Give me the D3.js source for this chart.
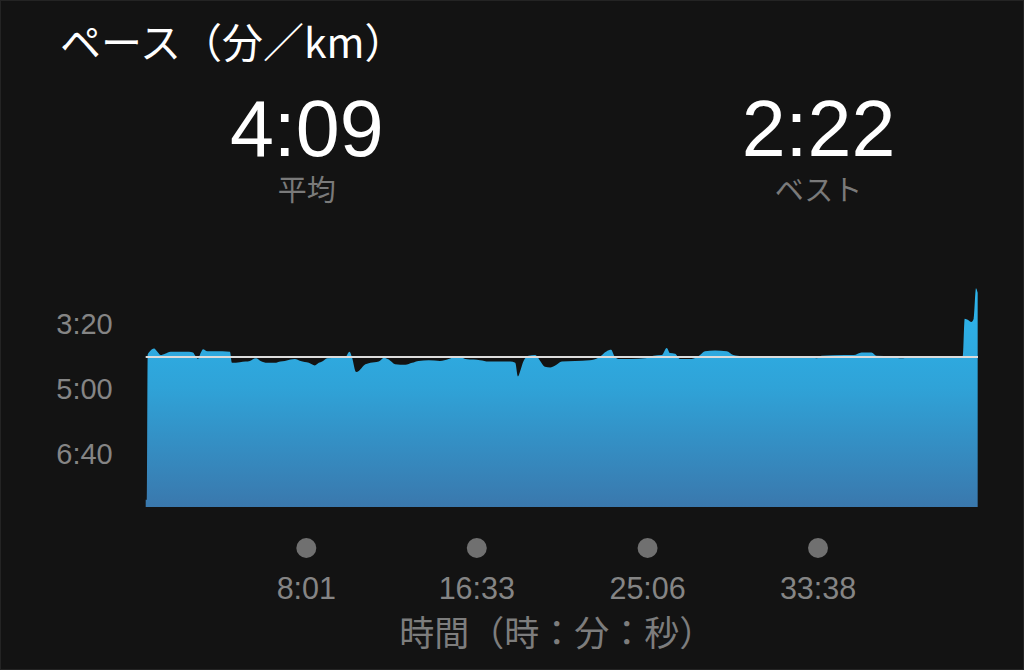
<!DOCTYPE html>
<html>
<head>
<meta charset="utf-8">
<script src="https://cdn.jsdelivr.net/npm/d3@7/dist/d3.min.js"></script>
<style>
html,body{margin:0;padding:0;background:#131313;}
svg{display:block;}
</style>
</head>
<body>
<svg id="chart" width="1024" height="670"></svg>
<script>
// ---- data (seconds) ----
const timeSec = [0,4,6,13,25,35,45,58,75,103,130,142,150,157,165,172,185,200,230,253,259,283,300,313,331,345,365,388,405,418,435,448,465,490,508,520,530,545,575,600,612,620,632,641,655,675,700,716,730,749,780,800,820,850,884,910,929,944,960,985,1004,1030,1064,1095,1110,1118,1124,1135,1150,1170,1185,1199,1215,1230,1250,1290,1334,1360,1385,1398,1408,1420,1460,1500,1525,1550,1565,1575,1590,1605,1640,1665,1680,1710,1745,1765,1790,1810,1850,1900,1930,1990,2016,2030,2100,2127,2150,2180,2195,2240,2265,2285,2300,2350,2400,2450,2454,2460,2470,2480,2487,2494,2499];
const paceSec = [469,469,245,240,236,241,246,244,241,241,241,242,248,252,243,237,240,240,240,241,258,257,256,255,251,255,258,258,256,255,253,252,255,258,262,258,256,251,250,249,241,250,272,270,262,258,256,250,253,260,261,258,255,254,255,252,249,249,252,253,254,256,256,256,258,279,272,255,247,246,255,264,265,262,256,255,254,250,240,238,248,252,252,251,247,246,235,243,244,252,252,246,240,239,240,246,248,250,250,250,248,248,251,247,246,246,242,242,247,248,251,250,248,248,248,248,248,190,192,195,190,143,150];
const yTickValues = [200, 300, 400];
const xTickValues = [481, 993, 1506, 2018];
const avgPace = 249;
const bestPace = 142;
const titleText = "ペース（分／km）";
const avgLabel = "平均";
const bestLabel = "ベスト";
const xAxisTitle = "時間（時：分：秒）";

const fmt = s => { const m = Math.floor(s/60), r = Math.round(s%60); return m + ":" + String(r).padStart(2,"0"); };

const svg = d3.select("#chart");
const W = 1024, H = 670;
const latin = "'Liberation Sans', 'Noto Sans CJK JP', sans-serif";
const cjk = "'Noto Sans CJK JP', 'Liberation Sans', sans-serif";

svg.append("rect").attr("x",0.5).attr("y",0.5).attr("width",W-1).attr("height",H-1)
  .attr("fill","#131313").attr("stroke","#242424").attr("stroke-width",1);

const left = 145.7, right = 978, bottom = 507;
const x = d3.scaleLinear().domain([0, 2500]).range([left, right]);
const y = d3.scaleLinear().domain([480, 249]).range([bottom, 357]);

// gradient
const defs = svg.append("defs");
const grad = defs.append("linearGradient").attr("id","g").attr("gradientUnits","userSpaceOnUse")
  .attr("x1",0).attr("x2",0).attr("y1",y(bestPace)).attr("y2",bottom);
grad.append("stop").attr("offset","0%").attr("stop-color","#2db6ee");
grad.append("stop").attr("offset","45%").attr("stop-color","#2fa3d8");
grad.append("stop").attr("offset","100%").attr("stop-color","#3a78ad");

const data = timeSec.map((t,i)=>({t, p: paceSec[i]}));
const area = d3.area().x(d=>x(d.t)).y0(bottom).y1(d=>y(d.p)).curve(d3.curveMonotoneX);
svg.append("path").datum(data).attr("d", area).attr("fill","url(#g)");

// average line
svg.append("line").attr("x1", x(0)).attr("x2", x(2500)).attr("y1", y(avgPace)).attr("y2", y(avgPace))
  .attr("stroke","#dcdcdc").attr("stroke-width",1.8);

// y axis
const yAxis = d3.axisLeft(y).tickValues(yTickValues).tickFormat(fmt).tickSize(0).tickPadding(33);
const yg = svg.append("g").attr("transform",`translate(${left},0)`).call(yAxis);
yg.select(".domain").remove();
yg.selectAll("text").attr("fill","#858585").attr("font-size",29).attr("font-family",latin).attr("dy","0.28em");

// x axis
const xAxis = d3.axisBottom(x).tickValues(xTickValues).tickFormat(fmt).tickSize(0).tickPadding(70);
const xg = svg.append("g").attr("transform",`translate(0,${bottom})`).call(xAxis);
xg.select(".domain").remove();
xg.selectAll("text").attr("fill","#858585").attr("font-size",30.5).attr("font-family",latin);
xg.selectAll(".tick").append("circle").attr("cx",0).attr("cy",41).attr("r",10).attr("fill","#707070");

// axis title
svg.append("text").attr("x", (left+right)/2 - 5).attr("y", 646).attr("text-anchor","middle")
  .attr("fill","#7d7d7d").attr("font-size",35).attr("font-family",cjk).text(xAxisTitle);

// title
svg.append("text").attr("x", 60).attr("y", 58).attr("fill","#ffffff").attr("font-size",41)
  .attr("font-family",cjk).text(titleText);

// summary values
const summary = [{v: avgPace, label: avgLabel, cx: x(xTickValues[0])}, {v: bestPace, label: bestLabel, cx: x(xTickValues[3])}];
summary.forEach(s => {
  svg.append("text").attr("x", s.cx + 1).attr("y", 156).attr("text-anchor","middle").attr("fill","#ffffff")
    .attr("font-size",79).attr("font-family",latin).text(fmt(s.v));
  svg.append("text").attr("x", s.cx + 1).attr("y", 201).attr("text-anchor","middle").attr("fill","#7a7a7a")
    .attr("font-size",29).attr("font-family",cjk).text(s.label);
});
</script>
</body>
</html>
